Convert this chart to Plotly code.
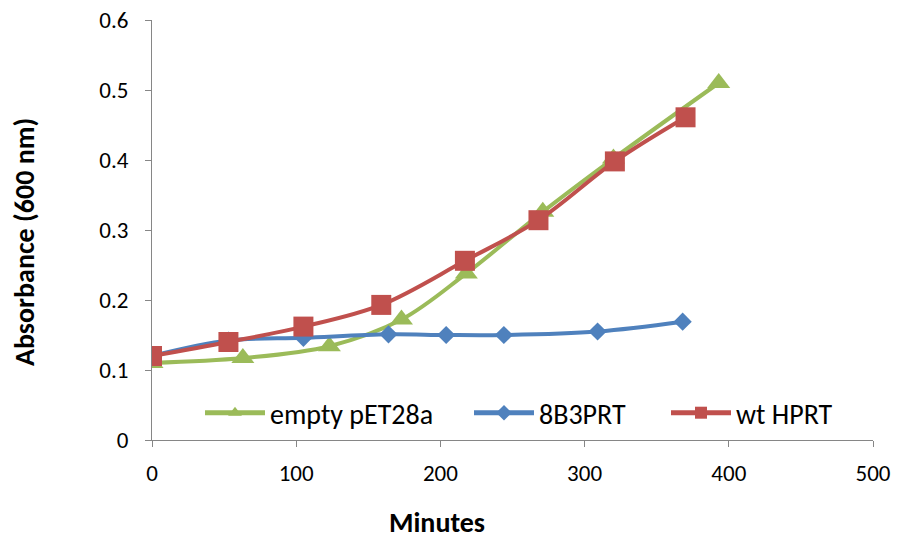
import plotly.graph_objects as go

# Data
minutes_empty = [0, 63, 123, 173, 218, 271, 320, 393]
abs_empty = [0.11, 0.117, 0.134, 0.172, 0.238, 0.326, 0.402, 0.51]

minutes_8b3 = [0, 53, 105, 164, 204, 244, 309, 368]
abs_8b3 = [0.12, 0.142, 0.146, 0.151, 0.150, 0.150, 0.155, 0.169]

minutes_wt = [0, 53, 105, 159, 217, 268, 321, 370]
abs_wt = [0.12, 0.14, 0.162, 0.193, 0.256, 0.314, 0.398, 0.461]

x_ticks = [0, 100, 200, 300, 400, 500]
y_ticks = [0, 0.1, 0.2, 0.3, 0.4, 0.5, 0.6]
y_tick_text = ["0", "0.1", "0.2", "0.3", "0.4", "0.5", "0.6"]

GREEN = "#9BBB59"
BLUE = "#4F81BD"
RED = "#C0504D"
FONT = "Carlito, Lato, 'Open Sans', sans-serif"

W, H = 897, 542
L, R, T, B = 152, 873, 20, 440


def px_x(p):
    return (p - L) / (R - L)


def px_y(p):
    return (B - p) / (B - T)


fig = go.Figure()
fig.add_trace(go.Scatter(
    x=minutes_empty, y=abs_empty, name="empty pET28a", mode="lines+markers",
    line=dict(color=GREEN, width=4, shape="spline", smoothing=1),
    marker=dict(symbol="triangle-up", size=20, color=GREEN),
    legend="legend"))
fig.add_trace(go.Scatter(
    x=minutes_8b3, y=abs_8b3, name="8B3PRT", mode="lines+markers",
    line=dict(color=BLUE, width=4, shape="spline", smoothing=1),
    marker=dict(symbol="diamond", size=14, color=BLUE),
    legend="legend2"))
fig.add_trace(go.Scatter(
    x=minutes_wt, y=abs_wt, name="wt HPRT", mode="lines+markers",
    line=dict(color=RED, width=4, shape="spline", smoothing=1),
    marker=dict(symbol="square", size=20, color=RED),
    legend="legend3"))

leg_common = dict(xref="paper", yref="paper", yanchor="middle", xanchor="left",
                  bgcolor="rgba(0,0,0,0)", font=dict(family=FONT, size=28, color="#000"),
                  itemsizing="constant", itemwidth=60)
ly = px_y(413)
fig.update_layout(
    width=W, height=H,
    margin=dict(l=L, r=W - R, t=T, b=H - B, autoexpand=False),
    paper_bgcolor="white", plot_bgcolor="white",
    font=dict(family=FONT, size=19, color="#000"),
    showlegend=True,
    legend=dict(x=px_x(200), y=ly, **leg_common),
    legend2=dict(x=px_x(469), y=ly, **leg_common),
    legend3=dict(x=px_x(666), y=ly, **leg_common),
    xaxis=dict(range=[0, 500], tickvals=x_ticks, showgrid=False, zeroline=False,
               showline=True, linecolor="#868686", linewidth=1,
               ticks="outside", ticklen=6, tickcolor="#868686", ticklabelstandoff=6,
               tickfont=dict(family=FONT, size=23, color="#000")),
    yaxis=dict(range=[0, 0.6], tickvals=y_ticks, ticktext=y_tick_text, showgrid=False,
               zeroline=False, showline=True, linecolor="#868686", linewidth=1,
               ticks="outside", ticklen=6, tickcolor="#868686", ticklabelstandoff=12,
               tickfont=dict(family=FONT, size=23, color="#000")),
    annotations=[
        dict(text="<b>Minutes</b>", xref="paper", yref="paper", x=px_x(437),
             y=px_y(522), xanchor="center", yanchor="middle",
             showarrow=False, font=dict(family=FONT, size=28, color="#000")),
        dict(text="<b>Absorbance (600 nm)</b>", xref="paper", yref="paper",
             x=px_x(24), y=px_y(242), textangle=-90,
             xanchor="center", yanchor="middle", showarrow=False,
             font=dict(family=FONT, size=28, color="#000")),
    ],
)

fig.write_html("out.html")
